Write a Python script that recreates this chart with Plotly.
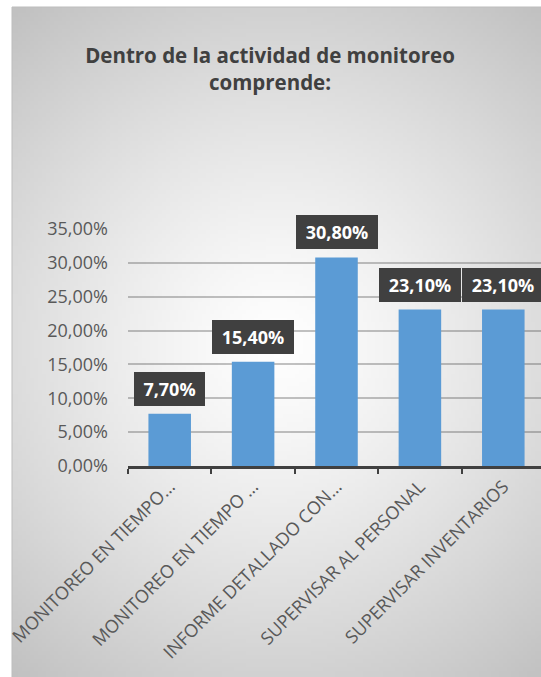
import base64, struct, zlib
import numpy as np
import plotly.graph_objects as go

# ---------------- data ----------------
categories = [
    "MONITOREO EN TIEMPO…",
    "MONITOREO EN TIEMPO …",
    "INFORME DETALLADO CON…",
    "SUPERVISAR AL PERSONAL",
    "SUPERVISAR INVENTARIOS",
]
values = [0.077, 0.154, 0.308, 0.231, 0.231]
y_ticks = [0, 0.05, 0.10, 0.15, 0.20, 0.25, 0.30, 0.35]
title_text = "Dentro de la actividad de monitoreo<br>comprende:"

# ---------------- layout geometry (pixels) ----------------
W, H = 541, 677
ML, MR, MT, MB = 128, 0, 229, 211
PW, PH = W - ML - MR, H - MT - MB
CH_X0, CH_Y0 = 12, 7  # chart-area top-left corner


def px_to_paper_x(px):
    return (px - ML) / PW


def px_to_paper_y(py):
    return 1 - (py - MT) / PH


# ---------------- radial gradient background (PNG) ----------------
def make_png(arr):
    h, w, _ = arr.shape
    raw = b"".join(b"\x00" + arr[i].tobytes() for i in range(h))

    def chunk(tag, data):
        c = struct.pack(">I", len(data)) + tag + data
        return c + struct.pack(">I", zlib.crc32(tag + data) & 0xFFFFFFFF)

    png = b"\x89PNG\r\n\x1a\n"
    png += chunk(b"IHDR", struct.pack(">IIBBBBB", w, h, 8, 2, 0, 0, 0))
    png += chunk(b"IDAT", zlib.compress(raw, 9))
    png += chunk(b"IEND", b"")
    return "data:image/png;base64," + base64.b64encode(png).decode()


gw, gh = W - CH_X0, H - CH_Y0
sw, sh = gw // 4, gh // 4
yy, xx = np.mgrid[0:sh, 0:sw].astype(float)
cx, cy = sw * 0.5, sh * 0.5
d = np.sqrt((xx - cx) ** 2 + (yy - cy) ** 2)
d = d / d.max()
g = 255 - 62 * d ** 1.25
g = np.clip(g, 0, 255).astype(np.uint8)
img = np.stack([g, g, g], axis=-1)
bg_src = make_png(img)

fig = go.Figure()

fig.add_trace(go.Bar(
    x=categories,
    y=values,
    marker=dict(color="#5B9BD5", line=dict(width=0)),
    width=0.51,
    hoverinfo="skip",
))

# data labels in dark boxes
for c, v in zip(categories, values):
    lbl = f"{v*100:.2f}".replace(".", ",") + "%"
    fig.add_annotation(
        x=c, y=v, xref="x", yref="y",
        text=f"<b>{lbl}</b>",
        showarrow=False,
        yanchor="bottom", xanchor="center",
        yshift=8,
        bgcolor="#404040",
        borderpad=0, borderwidth=0,
        width=71 if len(lbl) == 5 else 82,
        height=34,
        font=dict(family="Open Sans", size=18, color="white"),
    )

fig.add_layout_image(
    source=bg_src,
    xref="paper", yref="paper",
    x=px_to_paper_x(CH_X0), y=px_to_paper_y(CH_Y0),
    sizex=gw / PW, sizey=gh / PH,
    xanchor="left", yanchor="top",
    sizing="stretch", layer="below",
)

fig.add_shape(
    type="rect", xref="paper", yref="paper",
    x0=px_to_paper_x(CH_X0), y0=px_to_paper_y(H + 2),
    x1=px_to_paper_x(W + 2), y1=px_to_paper_y(CH_Y0),
    line=dict(color="#bdbdbd", width=1),
    fillcolor="rgba(0,0,0,0)", layer="below",
)

fig.update_layout(
    width=W, height=H,
    margin=dict(l=ML, r=MR, t=MT, b=MB, pad=0),
    paper_bgcolor="white",
    plot_bgcolor="rgba(0,0,0,0)",
    separators=",.",
    showlegend=False,
    title=dict(
        text=title_text,
        x=270 / W, xref="container", xanchor="center",
        y=1 - 63 / H, yref="container", yanchor="middle",
        font=dict(family="Open Sans", size=20.5, color="#404040", weight="bold"),
    ),
    bargap=0.49,
)

fig.update_xaxes(
    type="category",
    range=[-0.5, -0.5 + PW / 83.4],
    tickangle=-45,
    tickson="boundaries",
    ticks="outside", ticklen=5, tickwidth=2, tickcolor="#404040",
    showline=True, linecolor="#404040", linewidth=3,
    showgrid=False,
    tickfont=dict(family="Open Sans", size=18, color="#595959"),
)

fig.update_yaxes(
    range=[0, 0.35],
    tickvals=y_ticks,
    tickformat=".2%",
    showgrid=True, gridcolor="rgba(80,80,80,0.35)", gridwidth=1.5,
    zeroline=False,
    showline=False,
    ticks="",
    tickfont=dict(family="Open Sans", size=18, color="#595959"),
    ticklabelstandoff=19,
)

fig.write_html(
    "out.html",
    config={"displayModeBar": False},
    post_script="document.body.style.margin='0px';document.body.style.overflow='hidden';",
)
